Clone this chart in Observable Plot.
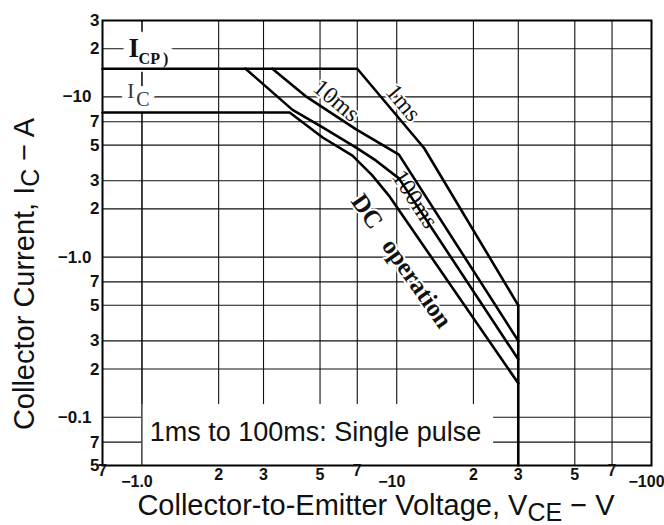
<!DOCTYPE html>
<html>
<head>
<meta charset="utf-8">
<script src="https://cdn.jsdelivr.net/npm/d3@7"></script>
<script src="https://cdn.jsdelivr.net/npm/@observablehq/plot@0.6"></script>
<style>
  html, body { margin: 0; padding: 0; background: white; }
</style>
</head>
<body>
<div id="chart"></div>
<script>
// ---- tick values and labels ----
const xTicks = [0.7, 1, 2, 3, 5, 7, 10, 20, 30, 50, 70, 100];
const xTickLabels = ["7", "−1.0", "2", "3", "5", "7", "−10", "2", "3", "5", "7", "−100"];
const yTicks = [30, 20, 10, 7, 5, 3, 2, 1, 0.7, 0.5, 0.3, 0.2, 0.1, 0.07, 0.05];
const yTickLabels = ["3", "2", "−10", "7", "5", "3", "2", "−1.0", "7", "5", "3", "2", "−0.1", "7", "5"];
const gridX = [1, 2, 3, 5, 7, 10, 20, 30, 50, 70];
const gridY = [0.07, 0.1, 0.2, 0.3, 0.5, 0.7, 1, 2, 3, 5, 7, 10, 20];

// ---- SOA boundaries (V_CE in V, I_C in A, magnitudes) ----
const vce1ms = [0.7, 7, 12.8, 30];
const ic1ms = [15, 15, 4.8, 0.5];
const vce10ms = [3.25, 4.43, 6.93, 10.2, 30];
const ic10ms = [15, 10, 6.27, 4.36, 0.3];
const vce100ms = [2.55, 3.9, 5.12, 6.93, 8.3, 10.2, 30];
const ic100ms = [15, 8.3, 6.45, 4.83, 4.0, 3.1, 0.23];
const vceDC = [0.7, 3.8, 5.12, 6.7, 8.0, 9.3, 30];
const icDC = [8, 8, 5.58, 4.3, 3.25, 2.43, 0.163];
const vceLimit = [30, 30];
const icLimit = [0.5, 0.05];

// ---- curve labels ----
const curveLabels = ["1ms", "10ms", "100ms", "DC", "operation"];
const curveLabelV = [10.6, 5.8, 11.8, 7.65, 12.0];
const curveLabelI = [9.2, 9.5, 2.3, 1.93, 0.686];
const curveLabelAngle = [50, 40, 57, 55, 55];

// ---- limit labels (I_CP, I_C) ----
const limitMain = ["I", "I"];
const limitSub = ["CP", "C"];
const limitMainV = [0.885, 0.875];
const limitMainI = [20, 10.8];
const limitSubV = [0.97, 0.95];
const limitSubI = [17.2, 9.6];

// ---- note ----
const noteText = "1ms to 100ms: Single pulse";
const noteV = [4.8];
const noteI = [0.08];
const noteBoxV = [1, 24];
const noteBoxI = [0.05, 0.12];

const toRows = (xs, ys) => xs.map((x, i) => ({x, y: ys[i]}));
const curves = [toRows(vce1ms, ic1ms), toRows(vce10ms, ic10ms), toRows(vce100ms, ic100ms), toRows(vceDC, icDC), toRows(vceLimit, icLimit)];

const xRows = xTicks.map((v, i) => ({v, t: xTickLabels[i]}));
const yRows = yTicks.map((v, i) => ({v, t: yTickLabels[i]}));
const isDecadeLabel = t => t.startsWith("−");

const mainRows = limitMain.map((t, i) => ({t, x: limitMainV[i], y: limitMainI[i], bold: i === 0}));
const subRows = limitSub.map((t, i) => ({t, x: limitSubV[i], y: limitSubI[i], bold: i === 0}));

const serif = "Liberation Serif, Times New Roman, serif";
const sans = "Liberation Sans, Arial, sans-serif";

const limitTextMarks = (halo) => [
  Plot.text(mainRows.filter(d => d.bold), {x: "x", y: "y", text: "t", textAnchor: "start", fontSize: 27, fontWeight: "bold", fontFamily: serif,
    fill: halo ? "white" : "#111", stroke: halo ? "white" : null, strokeWidth: 16}),
  Plot.text(subRows.filter(d => d.bold), {x: "x", y: "y", text: (d) => d.t + " )", textAnchor: "start", fontSize: 16, fontWeight: "bold", fontFamily: serif,
    fill: halo ? "white" : "#111", stroke: halo ? "white" : null, strokeWidth: 16}),
  Plot.text(mainRows.filter(d => !d.bold), {x: "x", y: "y", text: "t", textAnchor: "start", fontSize: 21, fontFamily: serif,
    fill: halo ? "white" : "#333", stroke: halo ? "white" : null, strokeWidth: 12}),
  Plot.text(subRows.filter(d => !d.bold), {x: "x", y: "y", text: "t", textAnchor: "start", fontSize: 20, fontFamily: serif,
    fill: halo ? "white" : "#333", stroke: halo ? "white" : null, strokeWidth: 12})
];

const marks = [
  Plot.ruleX(gridX, {stroke: "#111", strokeWidth: 1.1}),
  Plot.ruleY(gridY, {stroke: "#111", strokeWidth: 1.1}),
  Plot.rect([0], {x1: () => noteBoxV[0], x2: () => noteBoxV[1], y1: () => noteBoxI[0], y2: () => noteBoxI[1], fill: "white"}),
  Plot.ruleX([gridX[0]], {stroke: "#111", strokeWidth: 1.1}),
  Plot.text([noteText], {x: () => noteV[0], y: () => noteI[0], text: d => d, fontSize: 27, fontFamily: sans, fill: "#111"}),
  ...limitTextMarks(true),
  ...limitTextMarks(false),
  // curve labels
  ...curveLabels.map((label, i) => Plot.text([label], {
    x: () => curveLabelV[i], y: () => curveLabelI[i], text: d => d,
    rotate: curveLabelAngle[i], fontSize: i >= 3 ? 25 : 24,
    fontWeight: i >= 3 ? "bold" : "normal", fontFamily: serif,
    fill: "#111", stroke: "white", strokeWidth: 4
  })),
  // SOA curves
  ...curves.map(rows => Plot.line(rows, {x: "x", y: "y", stroke: "#000", strokeWidth: 2.6})),
  Plot.frame({stroke: "#000", strokeWidth: 2}),
  // tick labels
  Plot.text(xRows.filter(d => d.t === "7"), {x: "v", text: "t", frameAnchor: "bottom", dy: 10, fontSize: 16, fontWeight: "bold", fontFamily: sans, fill: "#111"}),
  Plot.text(xRows.filter(d => d.t !== "7" && !isDecadeLabel(d.t)), {x: "v", text: "t", frameAnchor: "bottom", dy: 14, fontSize: 16, fontWeight: "bold", fontFamily: sans, fill: "#111"}),
  Plot.text(xRows.filter(d => isDecadeLabel(d.t)), {x: "v", text: "t", frameAnchor: "bottom", dy: 21, dx: -5, fontSize: 16, fontWeight: "bold", fontFamily: sans, fill: "#111"}),
  Plot.text(yRows.filter(d => !isDecadeLabel(d.t)), {y: "v", text: "t", frameAnchor: "left", textAnchor: "end", dx: -3, fontSize: 17, fontWeight: "bold", fontFamily: sans, fill: "#111"}),
  Plot.text(yRows.filter(d => isDecadeLabel(d.t)), {y: "v", text: "t", frameAnchor: "left", textAnchor: "end", dx: -11, fontSize: 17, fontWeight: "bold", fontFamily: sans, fill: "#111"})
];

const W = 664, H = 525, ML = 102, MR = 13, MT = 20, MB = 60;
const chart = Plot.plot({
  width: W, height: H,
  marginLeft: ML, marginRight: MR, marginTop: MT, marginBottom: MB,
  x: {type: "log", domain: [0.7, 100], axis: null},
  y: {type: "log", domain: [0.05, 30], axis: null},
  style: {background: "white", fontFamily: sans, overflow: "visible"},
  marks
});

const svg = d3.select(chart);
// x axis title
const xt = svg.append("text")
  .attr("x", 376)
  .attr("y", H - 10)
  .attr("text-anchor", "middle")
  .style("font-family", sans)
  .style("font-size", "29px")
  .attr("fill", "#111");
xt.append("tspan").text("Collector-to-Emitter Voltage, V");
xt.append("tspan").attr("dy", 6).style("font-size", "25px").text("CE");
xt.append("tspan").attr("dy", -6).text(" − V");

// y axis title
const yt = svg.append("text")
  .attr("transform", `translate(34, ${(115 + 433) / 2}) rotate(-90)`)
  .attr("text-anchor", "middle")
  .style("font-family", sans)
  .style("font-size", "29px")
  .attr("fill", "#111");
yt.append("tspan").text("Collector Current, I");
yt.append("tspan").attr("dy", 5).style("font-size", "25px").text("C");
yt.append("tspan").attr("dy", -5).text(" − A");

document.getElementById("chart").appendChild(chart);
</script>
</body>
</html>
